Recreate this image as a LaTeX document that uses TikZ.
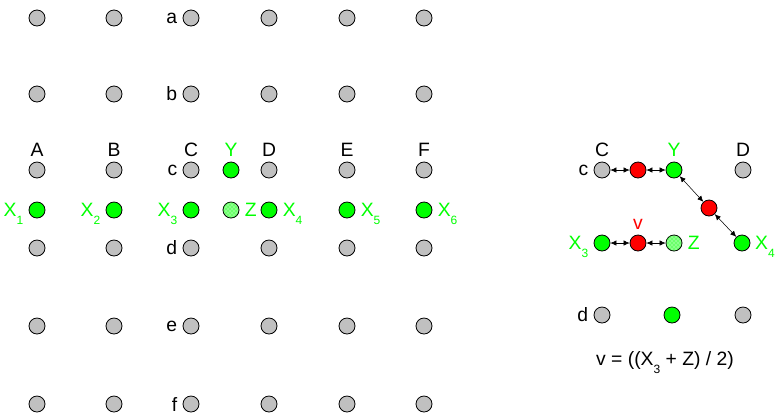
\documentclass[tikz,border=0pt]{standalone}
\usepackage{fontspec}
\setmainfont{Liberation Sans}
\usetikzlibrary{arrows.meta,patterns}
\definecolor{ptGrey}{HTML}{C0C0C0}
\definecolor{ptGreen}{HTML}{00FF00}
\definecolor{ptRed}{HTML}{FF0000}
\definecolor{ink}{HTML}{000000}
\newcommand{\xsub}[2]{#1\raisebox{-0.8ex}[0pt][0pt]{\fontsize{9}{9}\selectfont #2}}
\begin{document}
\begin{tikzpicture}[x=0.75pt,y=-0.75pt,font=\fontsize{14.5}{16}\selectfont,>={Latex[length=4.5pt,width=4pt]},
  dot/.style={circle,draw=ink,line width=0.6pt,inner sep=0pt,minimum size=12pt,fill=ptGrey},
  on/.style={dot,fill=ptGreen}, mid/.style={dot,fill=ptRed},
  zdot/.style={dot,fill=ptGreen!45!white,postaction={pattern=crosshatch dots,pattern color=ptGreen}},
  gl/.style={text=ptGreen}, label distance=0.5pt]
\useasboundingbox (0,0) rectangle (775,419);
% left grid
\foreach \r/\y in {a/18,b/94,d/248,e/326,f/404}{
  \foreach \c/\x in {1/37,2/114,4/269,5/347,6/424}
    \node[dot] (g\c\r) at (\x,\y) {};
  \node[dot,label=left:\r] (g3\r) at (191,\y) {};
}
\node[dot,label=above:A] (gA) at (37,170) {};
\node[dot,label=above:B] (gB) at (114,170) {};
\node[dot,label=above:C,label=left:c] (gC) at (191,170) {};
\node[dot,label=above:D] (gD) at (269,170) {};
\node[dot,label=above:E] (gE) at (347,170) {};
\node[dot,label=above:F] (gF) at (424,170) {};
\node[on,label={[gl]above:Y}] (y) at (231,170) {};
\node[on,label={[gl]left:\xsub{X}{1}}] (x1) at (37,210) {};
\node[on,label={[gl]left:\xsub{X}{2}}] (x2) at (114,210) {};
\node[on,label={[gl]left:\xsub{X}{3}}] (x3) at (191,210) {};
\node[zdot,label={[gl]right:Z}] (z) at (231,210) {};
\node[on,label={[gl]right:\xsub{X}{4}}] (x4) at (269,210) {};
\node[on,label={[gl]right:\xsub{X}{5}}] (x5) at (347,210) {};
\node[on,label={[gl]right:\xsub{X}{6}}] (x6) at (424,210) {};
% right panel
\node[dot,label=above:C,label=left:c] (rc) at (602,170) {};
\node[mid] (rm1) at (638,170) {};
\node[on,label={[gl]above:Y}] (ry) at (674,170) {};
\node[dot,label=above:D] (rd) at (743,170) {};
\node[mid] (rm2) at (709,208) {};
\node[on,label={[gl]left:\xsub{X}{3}}] (rx3) at (602,243) {};
\node[mid,label={[text=ptRed,label distance=0pt]above:v}] (rv) at (638,243) {};
\node[zdot,label={[gl]right:Z}] (rz) at (674,243) {};
\node[on,label={[gl,label distance=0pt]right:\xsub{X}{4}}] (rx4) at (742,243) {};
\node[dot,label=left:d] (rdd) at (602,315) {};
\node[on] (rg) at (672,315) {};
\node[dot] (rgr) at (743,315) {};
\node (eq) at (665,360) {v = ((\xsub{X}{3} + Z) / 2)};
\draw[<->] (rc) -- (rm1);
\draw[<->] (rm1) -- (ry);
\draw[<->] (ry) -- (rm2);
\draw[<->] (rm2) -- (rx4);
\draw[<->] (rx3) -- (rv);
\draw[<->] (rv) -- (rz);
\end{tikzpicture}
\end{document}
